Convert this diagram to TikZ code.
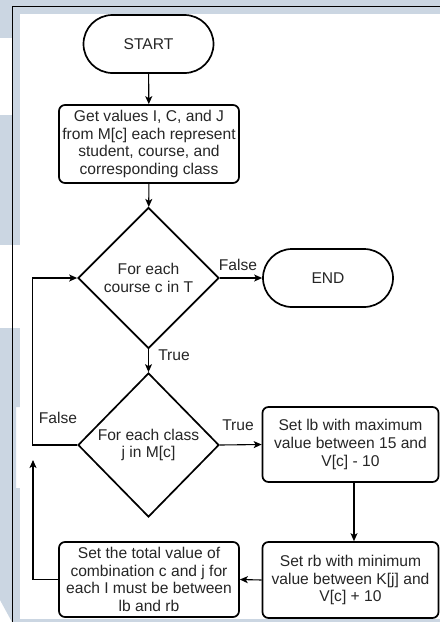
\documentclass[tikz,border=0pt]{standalone}
\usepackage{fontspec}
\setmainfont{Liberation Sans}
\usetikzlibrary{shapes.geometric,arrows.meta}
\definecolor{pageblue}{RGB}{203,214,226}

\tikzset{
  txt/.style={font=\fontsize{15.6}{17.7}\selectfont, text=black!85},
  terminal/.style={txt, draw, line width=1.7pt, rounded corners=29pt,
    minimum width=130pt, minimum height=58pt, inner sep=0pt},
  procbox/.style={txt, draw, line width=1.7pt, rounded corners=6pt,
    align=center, inner sep=0pt},
  decision/.style={txt, draw, diamond, aspect=1, line width=1.7pt,
    align=center, inner sep=0pt},
  flow/.style={line width=1.1pt, -{Stealth[length=8pt,width=7pt,inset=2pt]}},
  lbl/.style={txt, inner sep=0pt}
}

\begin{document}
\begin{tikzpicture}[x=1pt,y=-1pt]
  \useasboundingbox (0,0) rectangle (440,622);

  % page background with the surrounding frame
  \fill[white] (0,0) rectangle (440,622);
  \fill[pageblue] (0,0) rectangle (440,14);
  \fill[pageblue] (0,0) rectangle (20,38);
  \fill[pageblue] (12,0) rectangle (20,245);
  \fill[pageblue] (0,115) rectangle (12,245);
  \fill[pageblue] (0,328) -- (20,328) -- (20,407) -- (16,407) -- (16,488)
    -- (20,488) -- (20,622) -- (12,622) -- (0,600) -- cycle;
  \fill[pageblue] (20,619) rectangle (440,622);
  \fill[white] (20,14) rectangle (440,619);
  \draw[line width=1pt] (12,622) -- (12,6) -- (440,6);

  % nodes
  \node[terminal] (start) at (148.5,44) {START};
  \node[procbox, minimum width=180pt, minimum height=78pt] (get) at (149,144)
    {Get values I, C, and J\\from M[c] each represent\\student, course, and\\corresponding class};
  \node[decision, minimum width=141pt, minimum height=141pt] (course) at (148.5,278)
    {For each\\course c in T};
  \node[terminal] (finish) at (328,278) {END};
  \node[decision, minimum width=141pt, minimum height=144pt] (class) at (148.5,445)
    {For each class\\j in M[c]};
  \node[procbox, minimum width=176pt, minimum height=75pt] (lb) at (350.5,444.5)
    {Set lb with maximum\\value between 15 and\\V[c] - 10};
  \node[procbox, minimum width=176pt, minimum height=76pt] (rb) at (350.5,580)
    {Set rb with minimum\\value between K[j] and\\V[c] + 10};
  \node[procbox, minimum width=180pt, minimum height=75pt] (total) at (149,579.5)
    {Set the total value of\\combination c and j for\\each I must be between\\lb and rb};

  % connectors
  \draw[flow] (start) -- (get);
  \draw[flow] (get) -- (course);
  \draw[flow] (course.east) -- (finish.west);
  \draw[flow] (course.south) -- (class.north);
  \draw[flow] (class.east) -- (lb.west);
  \draw[flow] ([xshift=3.5pt]lb.south) -- ([xshift=3.5pt]rb.north);
  \draw[flow] (rb.west) -- (total.east);
  \draw[flow] (class.west) -- ++(-45,0) |- (course.west);
  \coordinate (back) at (33,460);
  \draw[flow] (total.west) -| (back);

  % branch labels
  \node[lbl] (f1) at (238,265) {False};
  \node[lbl] (t1) at (174,355) {True};
  \node[lbl] (t2) at (238,425) {True};
  \node[lbl] (f2) at (58,418) {False};
\end{tikzpicture}
\end{document}
